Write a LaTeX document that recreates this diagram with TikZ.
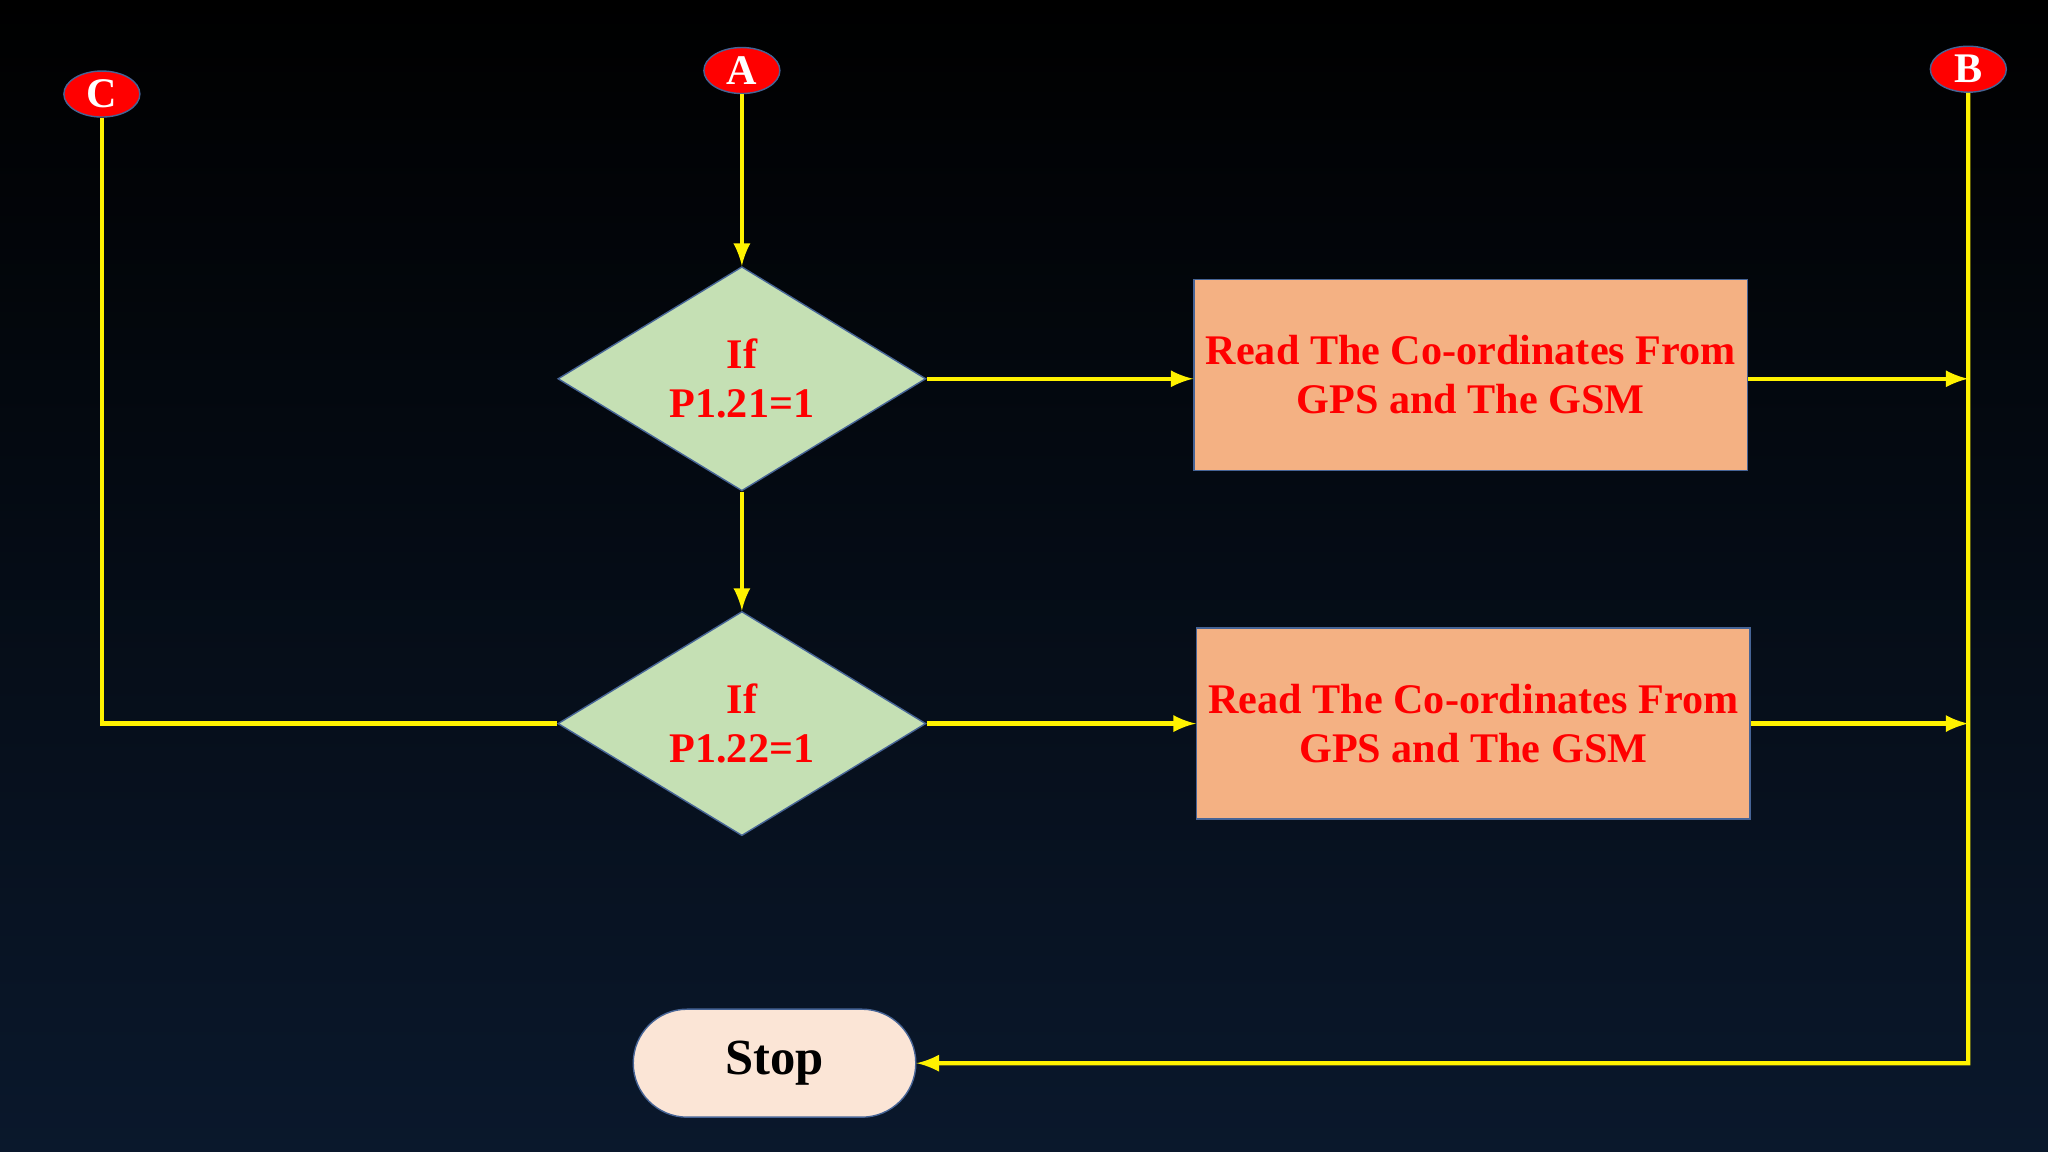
\documentclass[tikz,border=0pt]{standalone}
\usepackage{fontspec}
\setmainfont{Liberation Serif}
\usetikzlibrary{shapes.geometric,shapes.misc}
\definecolor{bgnavy}{RGB}{10,24,44}
\definecolor{decgreen}{RGB}{197,224,180}
\definecolor{procorange}{RGB}{244,177,131}
\definecolor{stopfill}{RGB}{251,229,214}
\definecolor{edgeblue}{RGB}{70,100,150}
\begin{document}
\begin{tikzpicture}[
    x=0.01306cm, y=-0.01306cm,
    conn/.style={ellipse, draw=edgeblue, fill=red, text=white, font=\bfseries\large, minimum width=0.76cm, minimum height=0.46cm, inner sep=0pt},
    decision/.style={diamond, draw=edgeblue, fill=decgreen, text=red, font=\bfseries\large, align=center, minimum width=3.68cm, minimum height=2.06cm, inner sep=0pt},
    process/.style={rectangle, draw=edgeblue, fill=procorange, text=red, font=\bfseries\large, align=center, minimum width=5.42cm, minimum height=1.91cm},
    terminal/.style={rounded rectangle, draw=edgeblue, fill=stopfill, font=\bfseries\Large, minimum width=3.06cm, minimum height=1.08cm},
    arrow/.style={->, >=latex, draw=yellow, line width=1.2pt},
    line/.style={draw=yellow, line width=1.2pt}
  ]

  % background
  \shade[top color=black, bottom color=bgnavy] (0,0) rectangle (1568,882);
  \useasboundingbox (0,0) rectangle (1568,882);

  % connectors
  \node[conn] (C) at (78,72) {C};
  \node[conn] (A) at (568,54) {A};
  \node[conn] (B) at (1507,53) {B};

  % main nodes
  \node[decision] (dec1) at (568,290) {If\\P1.21=1};
  \node[decision] (dec2) at (568,554) {If\\P1.22=1};
  \node[process] (read1) at (1126,287) {Read The Co-ordinates From\\GPS and The GSM};
  \node[process] (read2) at (1128,554) {Read The Co-ordinates From\\GPS and The GSM};
  \node[terminal] (stop) at (593,814) {Stop};

  \coordinate (j1) at (1507,290);
  \coordinate (j2) at (1507,554);
  \coordinate (jstop) at (1507,814);
  \coordinate (cbend) at (78,554);

  % flow
  \draw[arrow] (A) -- (dec1);
  \draw[arrow] (dec1) -- (dec2);
  \draw[arrow] (dec1) -- (read1.west |- dec1);
  \draw[arrow] (dec2) -- (read2);
  \draw[arrow] (read1.east |- j1) -- (j1);
  \draw[arrow] (read2) -- (j2);
  \draw[line] (dec2.west) -- (cbend) -- (C);
  \draw[arrow] (B) -- (jstop) -- (stop);

\end{tikzpicture}
\end{document}
